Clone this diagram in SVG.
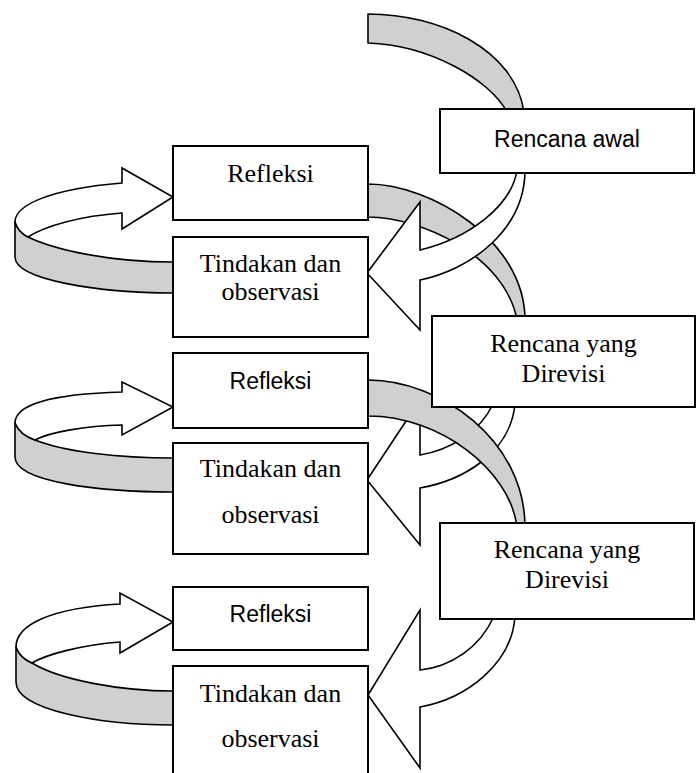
<svg xmlns="http://www.w3.org/2000/svg" width="697" height="773" viewBox="0 0 697 773">
<style>
.box{fill:#fff;stroke:#000;stroke-width:2}
.band{fill:#d0d0d0;stroke:#000;stroke-width:1.6;stroke-linejoin:round}
.arr{fill:#fff;stroke:#000;stroke-width:1.6;stroke-linejoin:miter}
.serif{font-family:"Liberation Serif","Times New Roman",serif;font-size:26px;fill:#000;text-anchor:middle}
.sans{font-family:"Liberation Sans",Arial,sans-serif;font-size:23px;fill:#000;text-anchor:middle}
</style>
<rect width="697" height="773" fill="#fff"/>
<g id="connectors">
  <!-- top gray band into Rencana awal -->
  <path class="band" d="M368,14 C440,14 515,50 524,112 L507,112 C490,80 430,45 368,43 Z"/>
  <!-- gray band Refleksi 1 to Rencana yang Direvisi 1 -->
  <path class="band" d="M368,184 C430,184 525,240 525,320 L517,320 C505,255 420,217 368,217 Z"/>
  <!-- white arrow Rencana awal to Tindakan 1 -->
  <path class="arr" d="M517,170 C512,205 470,238 420,250 L420,202 L367,273 L420,330 L420,280 C470,270 525,230 525,170 Z"/>
  <!-- white arrow Rencana yang Direvisi 1 to Tindakan 2 -->
  <path class="arr" d="M493,404 C480,432 450,450 420,455 L420,400 L367,480 L420,545 L420,488 C460,481 510,455 515,404 Z"/>
  <!-- gray band Refleksi 2 to Rencana yang Direvisi 2 -->
  <path class="band" d="M368,380 C440,380 525,440 525,527 L517,527 C510,470 440,416 368,416 Z"/>
  <!-- white arrow Rencana yang Direvisi 2 to Tindakan 3 -->
  <path class="arr" d="M494,616 C480,648 450,667 420,670 L420,610 L368,695 L420,768 L420,707 C465,699 512,665 515,616 Z"/>
  <!-- loop 1 -->
  <path class="band" d="M15,222 Q18,232 28,237 C55,250 110,262 173,262 L173,293 C100,293 15,280 15,257 Z"/>
  <path class="arr" d="M15,222 C15,205 50,189 122,183 L122,168 L173,197 L122,229 L122,213 C80,216 45,226 28,237 Q18,232 15,222 Z"/>
  <!-- loop 2 -->
  <path class="band" d="M15,423 Q20,435 35,440 C65,452 120,458 173,458 L173,492 C100,492 15,482 15,457 Z"/>
  <path class="arr" d="M15,423 C15,405 50,394 122,392 L122,382 L173,407 L122,435 L122,425 C85,426 50,432 35,440 Q20,435 15,423 Z"/>
  <!-- loop 3 -->
  <path class="band" d="M16,647 Q20,658 32,663 C60,680 120,691 173,691 L173,725 C100,725 16,710 16,682 Z"/>
  <path class="arr" d="M16,647 C16,625 50,608 120,604 L120,593 L173,622 L120,653 L120,642 C80,645 45,655 32,663 Q20,658 16,647 Z"/>
</g>
<g id="rencana-awal"><rect class="box" x="440" y="109" width="254" height="64"/><text class="sans" x="567" y="147">Rencana awal</text></g>
<g id="refleksi-1"><rect class="box" x="173" y="146" width="195" height="74"/><text class="serif" x="270.5" y="182">Refleksi</text></g>
<g id="tindakan-1"><rect class="box" x="173" y="237" width="195" height="100"/><text class="serif" x="270.5" y="272">Tindakan dan</text><text class="serif" x="270.5" y="300">observasi</text></g>
<g id="rencana-direvisi-1"><rect class="box" x="432" y="316" width="263" height="91"/><text class="serif" x="563.5" y="352">Rencana yang</text><text class="serif" x="563.5" y="382">Direvisi</text></g>
<g id="refleksi-2"><rect class="box" x="173" y="353" width="195" height="75"/><text class="sans" x="270.5" y="389">Refleksi</text></g>
<g id="tindakan-2"><rect class="box" x="173" y="443" width="195" height="111"/><text class="serif" x="270.5" y="477">Tindakan dan</text><text class="serif" x="270.5" y="523">observasi</text></g>
<g id="rencana-direvisi-2"><rect class="box" x="440" y="523" width="254" height="96"/><text class="serif" x="567" y="558">Rencana yang</text><text class="serif" x="567" y="588">Direvisi</text></g>
<g id="refleksi-3"><rect class="box" x="173" y="587" width="195" height="63"/><text class="sans" x="270.5" y="622">Refleksi</text></g>
<g id="tindakan-3"><rect class="box" x="173" y="666" width="195" height="112"/><text class="serif" x="270.5" y="702">Tindakan dan</text><text class="serif" x="270.5" y="747">observasi</text></g>
</svg>
